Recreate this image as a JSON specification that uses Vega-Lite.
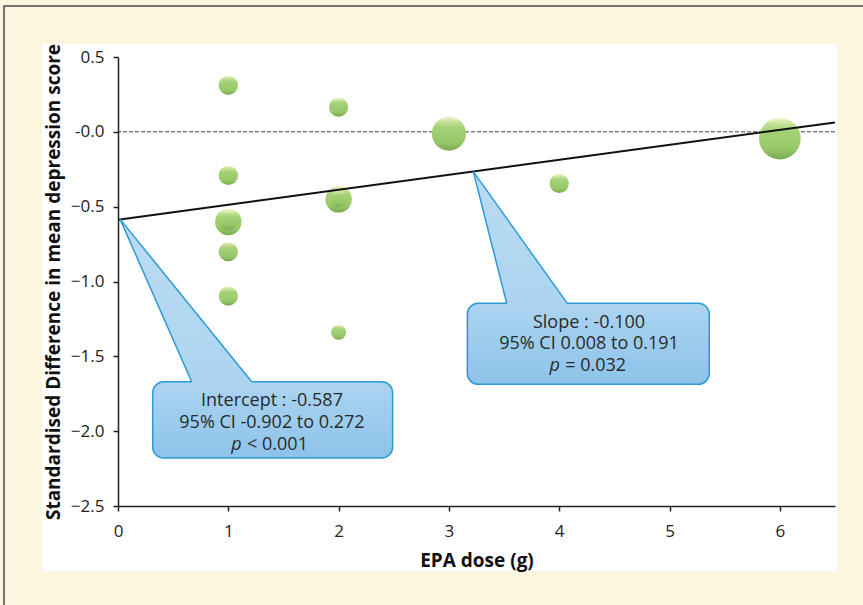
{
  "$schema": "https://vega.github.io/schema/vega-lite/v6.json",
  "width": 717,
  "height": 449,
  "autosize": "none",
  "padding": {"left": 118, "top": 57, "right": 28, "bottom": 99},
  "background": "#fdf6de",
  "datasets": {
    "frame": [{"x1": -1.0335, "x2": 7.2, "y1": 0.8405, "y2": -3.4}],
    "panel": [{"x1": -0.689, "x2": 6.518, "y1": 0.5866, "y2": -2.934}],
    "zero": [{"y": 0}],
    "fit": [{"dose": 0, "smd": -0.587}, {"dose": 6.5, "smd": 0.063}],
    "studies": [
      {"dose": 6, "smd": -0.045, "w": 17.4},
      {"dose": 3, "smd": -0.012, "w": 11.6},
      {"dose": 1, "smd": -0.602, "w": 7.0},
      {"dose": 1, "smd": -0.59, "w": 4.0},
      {"dose": 2, "smd": -0.451, "w": 7.0},
      {"dose": 2, "smd": -0.445, "w": 2.9},
      {"dose": 1, "smd": 0.311, "w": 3.72},
      {"dose": 2, "smd": 0.165, "w": 3.72},
      {"dose": 1, "smd": -0.291, "w": 3.72},
      {"dose": 4, "smd": -0.345, "w": 3.72},
      {"dose": 1, "smd": -0.801, "w": 3.72},
      {"dose": 1, "smd": -1.097, "w": 3.72},
      {"dose": 2, "smd": -1.339, "w": 2.25}
    ],
    "boxes": [
      {"id": "a", "x1": 0.3146, "x2": 2.49, "y1": -1.6695, "y2": -2.179},
      {"id": "b", "x1": 3.167, "x2": 5.36, "y1": -1.146, "y2": -1.687}
    ],
    "pointers": [
      {"id": "a", "x": 0.02, "y": -0.585, "y2": -0.585},
      {"id": "a", "x": 0.68, "y": -1.6895, "y2": -1.1855},
      {"id": "a", "x": 1.234, "y": -1.6895, "y2": -1.6895},
      {"id": "b", "x": 3.221, "y": -0.266, "y2": -0.266},
      {"id": "b", "x": 3.531, "y": -1.166, "y2": -0.586},
      {"id": "b", "x": 4.092, "y": -1.166, "y2": -1.166}
    ],
    "edges": [
      {"x": 0.02, "y": -0.585, "x2": 0.668, "y2": -1.6695},
      {"x": 0.02, "y": -0.585, "x2": 1.212, "y2": -1.6695},
      {"x": 3.221, "y": -0.266, "x2": 3.524, "y2": -1.146},
      {"x": 3.221, "y": -0.266, "x2": 4.073, "y2": -1.146}
    ],
    "labels": [
      {"x": 1.396, "y": -1.832, "t": ["Intercept : -0.587", "95% CI -0.902 to 0.272"]},
      {"x": 4.27, "y": -1.309, "t": ["Slope : -0.100", "95% CI 0.008 to 0.191"]}
    ],
    "pl": [
      {"x": 1.12, "y": -2.123, "t": "p"},
      {"x": 4.005, "y": -1.6, "t": "p"}
    ],
    "pr": [
      {"x": 1.17, "y": -2.123, "t": "< 0.001"},
      {"x": 4.055, "y": -1.6, "t": "= 0.032"}
    ]
  },
  "encoding": {
    "x": {
      "type": "quantitative",
      "scale": {"domain": [0, 6.5], "nice": false, "zero": false},
      "axis": {
        "title": "EPA dose (g)",
        "zindex": 2,
        "values": [0, 1, 2, 3, 4, 5, 6],
        "grid": false,
        "labelFlush": false,
        "labelOverlap": false,
        "labelPadding": 12,
        "titleBaseline": "alphabetic",
        "titleY": 60
      }
    },
    "y": {
      "type": "quantitative",
      "scale": {"domain": [-2.5, 0.5], "nice": false, "zero": false},
      "axis": {
        "title": "Standardised Difference in mean depression score",
        "zindex": 2,
        "values": [-2.5, -2, -1.5, -1, -0.5, 0, 0.5],
        "labelExpr": "datum.value == 0 ? '-0.0' : format(datum.value, '.1f')",
        "grid": false,
        "labelFlush": false,
        "labelOverlap": false,
        "labelPadding": 9,
        "titleAngle": 270,
        "titleAlign": "center",
        "titleBaseline": "alphabetic",
        "titleX": -59,
        "titleY": 224.5
      }
    }
  },
  "layer": [
    {
      "data": {"name": "frame"},
      "mark": {"type": "rect", "fill": "#fdf6de", "stroke": "#4a4a4a", "strokeWidth": 1.5, "clip": false},
      "encoding": {"x": {"field": "x1"}, "x2": {"field": "x2"}, "y": {"field": "y1"}, "y2": {"field": "y2"}}
    },
    {
      "data": {"name": "panel"},
      "mark": {"type": "rect", "fill": "#ffffff", "stroke": null, "clip": false},
      "encoding": {"x": {"field": "x1"}, "x2": {"field": "x2"}, "y": {"field": "y1"}, "y2": {"field": "y2"}}
    },
    {
      "data": {"name": "zero"},
      "mark": {"type": "rule", "color": "#444444", "strokeWidth": 1, "strokeDash": [4, 2]},
      "encoding": {"y": {"field": "y"}}
    },
    {
      "data": {"name": "studies"},
      "mark": {
        "type": "point",
        "shape": "circle",
        "filled": true,
        "opacity": 1,
        "stroke": null,
        "fill": {
          "gradient": "linear", "x1": 0, "y1": 0, "x2": 0, "y2": 1,
          "stops": [
            {"offset": 0, "color": "#f6f4cc"},
            {"offset": 0.14, "color": "#c9e29c"},
            {"offset": 0.32, "color": "#a4d176"},
            {"offset": 0.75, "color": "#97c868"},
            {"offset": 1, "color": "#7aa951"}
          ]
        }
      },
      "encoding": {
        "x": {"field": "dose"},
        "y": {"field": "smd"},
        "size": {"field": "w", "type": "quantitative", "scale": {"domain": [0, 20], "range": [0, 2000]}, "legend": null}
      }
    },
    {
      "data": {"name": "fit"},
      "mark": {"type": "line", "color": "#111111", "strokeWidth": 2},
      "encoding": {"x": {"field": "dose"}, "y": {"field": "smd"}}
    },
    {
      "data": {"name": "boxes"},
      "mark": {
        "type": "rect",
        "cornerRadius": 11,
        "stroke": "#2b9ad6",
        "strokeWidth": 1.5,
        "fill": {
          "gradient": "linear", "x1": 0, "y1": 0, "x2": 0, "y2": 1,
          "stops": [{"offset": 0, "color": "#acd4f0"}, {"offset": 1, "color": "#8dc3ea"}]
        }
      },
      "encoding": {"x": {"field": "x1"}, "x2": {"field": "x2"}, "y": {"field": "y1"}, "y2": {"field": "y2"}}
    },
    {
      "data": {"name": "pointers"},
      "mark": {
        "type": "area",
        "stroke": null,
        "opacity": 1,
        "fill": {
          "gradient": "linear", "x1": 0, "y1": 0, "x2": 0, "y2": 1,
          "stops": [{"offset": 0, "color": "#bcdcf3"}, {"offset": 1, "color": "#acd4f0"}]
        }
      },
      "encoding": {
        "x": {"field": "x"},
        "y": {"field": "y"},
        "y2": {"field": "y2"},
        "detail": {"field": "id", "type": "nominal"}
      }
    },
    {
      "data": {"name": "edges"},
      "mark": {"type": "rule", "color": "#2b9ad6", "strokeWidth": 1.5},
      "encoding": {"x": {"field": "x"}, "y": {"field": "y"}, "x2": {"field": "x2"}, "y2": {"field": "y2"}}
    },
    {
      "data": {"name": "labels"},
      "mark": {"type": "text", "align": "center", "baseline": "alphabetic", "fontSize": 18, "lineHeight": 21.6, "color": "#2a2a2a"},
      "encoding": {"x": {"field": "x"}, "y": {"field": "y"}, "text": {"field": "t"}}
    },
    {
      "data": {"name": "pl"},
      "mark": {"type": "text", "align": "right", "baseline": "alphabetic", "fontSize": 18, "fontStyle": "italic", "color": "#2a2a2a"},
      "encoding": {"x": {"field": "x"}, "y": {"field": "y"}, "text": {"field": "t"}}
    },
    {
      "data": {"name": "pr"},
      "mark": {"type": "text", "align": "left", "baseline": "alphabetic", "fontSize": 18, "color": "#2a2a2a"},
      "encoding": {"x": {"field": "x"}, "y": {"field": "y"}, "text": {"field": "t"}}
    }
  ],
  "config": {
    "font": "Open Sans",
    "view": {"stroke": null},
    "axis": {
      "labelFontSize": 17,
      "labelColor": "#222222",
      "tickSize": 5,
      "tickColor": "#222222",
      "tickWidth": 1.5,
      "domainColor": "#222222",
      "domainWidth": 1.5,
      "titleFontSize": 19,
      "titleFontWeight": "bold",
      "titleColor": "#111111"
    }
  }
}
